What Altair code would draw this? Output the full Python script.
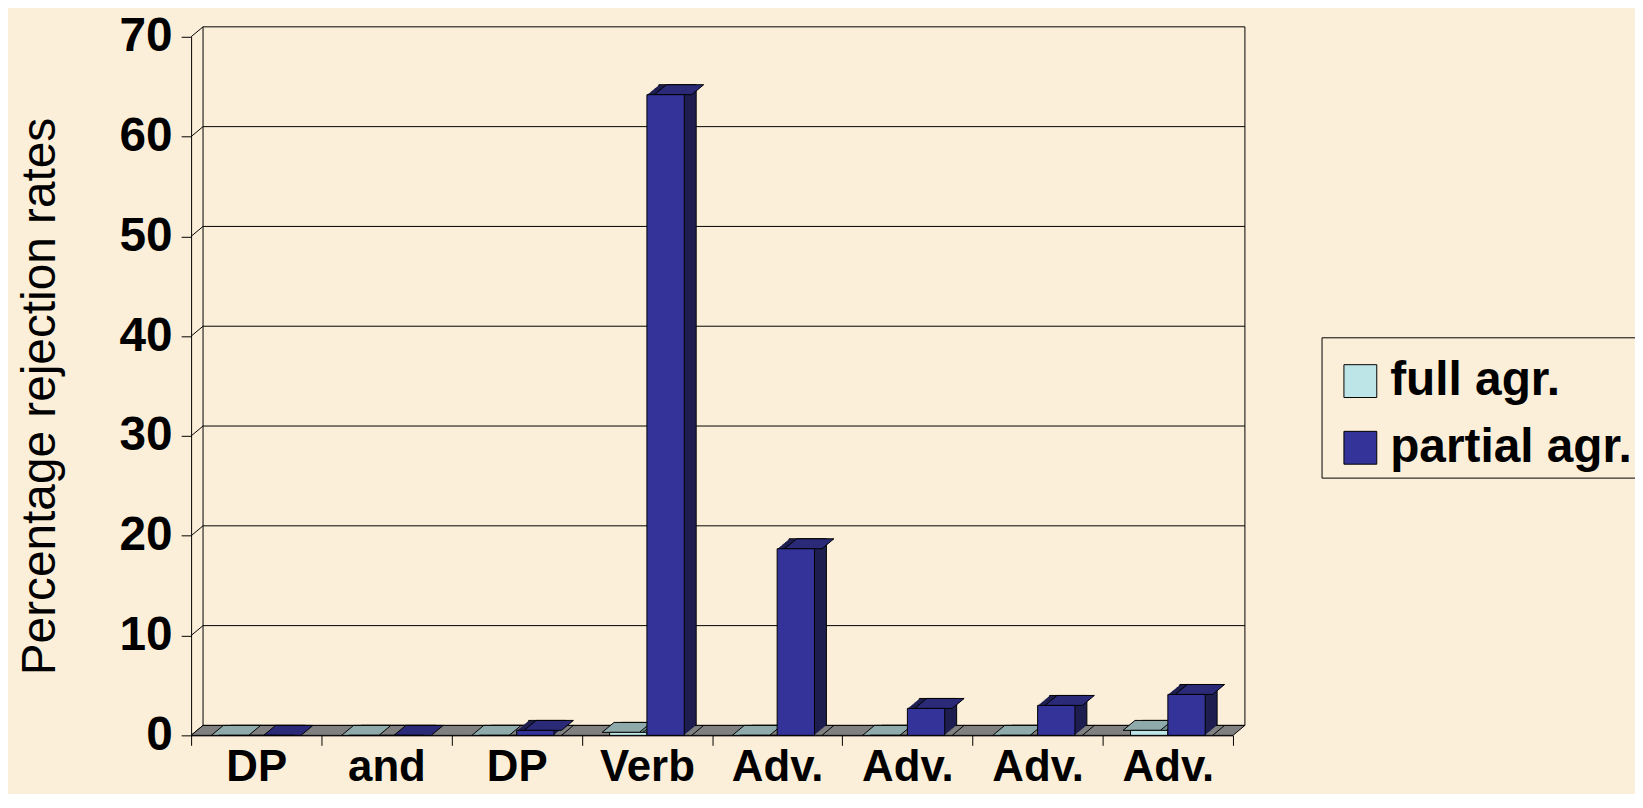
import altair as alt
import pandas as pd

# ---------------- data ----------------
categories = ["DP", "and", "DP", "Verb", "Adv.", "Adv.", "Adv.", "Adv."]
series_names = ["full agr.", "partial agr."]
full_values = [0, 0, 0, 0.3, 0, 0, 0, 0.5]
partial_values = [0, 0, 0.5, 64.2, 18.7, 2.7, 3.0, 4.1]
y_ticks = [0, 10, 20, 30, 40, 50, 60, 70]

rows = []
for i in range(len(categories)):
    rows.append({"pos": i, "series": series_names[0], "value": full_values[i]})
    rows.append({"pos": i, "series": series_names[1], "value": partial_values[i]})
df = pd.DataFrame(rows)
ticks_df = pd.DataFrame({"t": y_ticks})
one_df = pd.DataFrame({"k": [0]})

# ---------------- layout / style ----------------
W, H = 1047, 702
TOP_PAD = 27
LEFT_PAD = 184
DX, DY = 12, -10
PAD_OUT = 0.745
STEP = W / len(categories)
BW = STEP / (2 + 2 * PAD_OUT)
HW = BW / 2

FONT = "Liberation Sans"
BG = "#FCEFD9"
FRONT = ["#BDE4E7", "#333399"]
TOP = ["#8FAAAA", "#2A2A78"]
SIDE = ["#6F8C8C", "#1E1E50"]
FLOOR = "#808080"
YTITLE = "Percentage rejection rates"

label_expr = "[" + ",".join("'%s'" % c for c in categories) + "][datum.value]"
yscale = alt.Scale(domain=[0, 70], nice=False, zero=True)
xscale = alt.Scale(paddingInner=0, paddingOuter=0)

x_axis = alt.Axis(labelExpr=label_expr, labelAngle=0, labelFontSize=44,
                  labelFontWeight="bold", labelColor="black", labelFont=FONT,
                  tickBand="extent", tickSize=10, tickColor="black",
                  domainColor="black", labelPadding=0, grid=False, title=None)
y_axis = alt.Axis(values=y_ticks, labelFontSize=48, labelFontWeight="bold",
                  labelColor="black", labelFont=FONT, tickSize=10,
                  tickColor="black", domainColor="black", labelPadding=9,
                  grid=False, title=YTITLE,
                  titleFontSize=48, titleFontWeight="normal", titleFont=FONT,
                  titleColor="black", titleAngle=270, titleAlign="center",
                  titleBaseline="alphabetic", titleX=-137, titleY=361)


def xoff(shift=0):
    if shift:
        sc = alt.Scale(domain=series_names, paddingInner=0, paddingOuter=PAD_OUT,
                       range=[shift, STEP + shift])
    else:
        sc = alt.Scale(domain=series_names, paddingInner=0, paddingOuter=PAD_OUT)
    return alt.XOffset("series:N", scale=sc)


def by_series(colors):
    return alt.condition(alt.datum.series == series_names[0],
                         alt.value(colors[0]), alt.value(colors[1]))


def xpos():
    return alt.X("pos:O", scale=xscale, axis=x_axis, title=None)


def yfield(name):
    return alt.Y(name, scale=yscale, axis=y_axis, title=YTITLE)


def yzero():
    return alt.YDatum(0, scale=yscale, axis=y_axis, title=YTITLE)


# back wall gridlines
grid = alt.Chart(ticks_df).mark_rule(color="black", strokeWidth=1,
                                     yOffset=DY, y2Offset=DY).encode(
    x=alt.value(DX), x2=alt.value(W + DX), y=yfield("t:Q"), y2="t:Q")

# left wall diagonals
diag = alt.Chart(ticks_df).mark_rule(color="black", strokeWidth=1,
                                     y2Offset=DY).encode(
    x=alt.value(0), x2=alt.value(DX), y=yfield("t:Q"), y2="t:Q")

# back wall verticals
wall_l = alt.Chart(one_df).mark_rule(color="black", strokeWidth=1,
                                     yOffset=DY, y2Offset=DY).encode(
    x=alt.value(DX), y=yzero(), y2=alt.Y2Datum(70))
wall_r = alt.Chart(one_df).mark_rule(color="black", strokeWidth=1,
                                     yOffset=DY, y2Offset=DY).encode(
    x=alt.value(W + DX), y=yzero(), y2=alt.Y2Datum(70))

# floor
floor_path = "M0,0L%s,0L%s,%s L%s,%s Z" % (W, W + DX, DY, DX, DY)
floor = alt.Chart(one_df).mark_point(shape=floor_path, size=4, filled=True,
                                     fill=FLOOR, stroke="black", strokeWidth=1,
                                     opacity=1).encode(
    x=alt.value(0), y=yzero())

# side faces: extruded copies, the back one outlined
side_layers = []
for k in range(DX, 0, -1):
    dy = DY * k / DX
    props = dict(yOffset=dy, y2Offset=dy)
    if k == DX:
        props.update(stroke="black", strokeWidth=1)
    else:
        props.update(strokeWidth=0)
    side_layers.append(
        alt.Chart(df).mark_bar(**props).encode(
            x=xpos(), xOffset=xoff(k), y=yfield("value:Q"), y2=alt.Y2Datum(0),
            fill=by_series(SIDE)))

edge_path = "M%s,0L%s,%s" % (HW, HW + DX, DY)
side_edge = alt.Chart(df).transform_filter("datum.value > 0").mark_point(
    shape=edge_path, size=4, filled=False, stroke="black", strokeWidth=1,
    opacity=1).encode(
    x=xpos(), xOffset=xoff(), y=yzero())

top_path = "M%s,0L%s,%s L%s,%s L%s,0 Z" % (-HW, -HW + DX, DY, HW + DX, DY, HW)
top = alt.Chart(df).mark_point(shape=top_path, size=4, filled=True,
                               stroke="black", strokeWidth=1, opacity=1).encode(
    x=xpos(), xOffset=xoff(), y=yfield("value:Q"), fill=by_series(TOP))

front = alt.Chart(df).mark_bar(stroke="black", strokeWidth=1).encode(
    x=xpos(), xOffset=xoff(), y=yfield("value:Q"),
    fill=alt.Fill("series:N",
                  scale=alt.Scale(domain=series_names, range=FRONT),
                  legend=alt.Legend(title=" ", titleFontSize=1, titlePadding=13,
                                    orient="none", legendX=1136,
                                    legendY=302, direction="vertical",
                                    labelFontSize=48, labelFontWeight="bold",
                                    labelFont=FONT, labelColor="black",
                                    symbolType="square", symbolSize=1089,
                                    symbolStrokeColor="black", symbolStrokeWidth=1,
                                    symbolOpacity=1, symbolOffset=9,
                                    strokeColor="black", fillColor=BG,
                                    padding=6, rowPadding=19,
                                    labelOffset=6, labelLimit=400)))

chart = alt.layer(grid, diag, wall_l, wall_r, floor, *side_layers, side_edge,
                  top, front).resolve_scale(xOffset="independent").properties(
    width=W, height=H,
    autosize=alt.AutoSizeParams(type="none"),
    padding={"left": LEFT_PAD, "top": TOP_PAD, "right": 1635 - LEFT_PAD - W,
             "bottom": 786 - TOP_PAD - H},
).configure(background=BG, font=FONT).configure_view(stroke=None)

chart.save("out.html", embed_options={"renderer": "svg", "actions": False})
